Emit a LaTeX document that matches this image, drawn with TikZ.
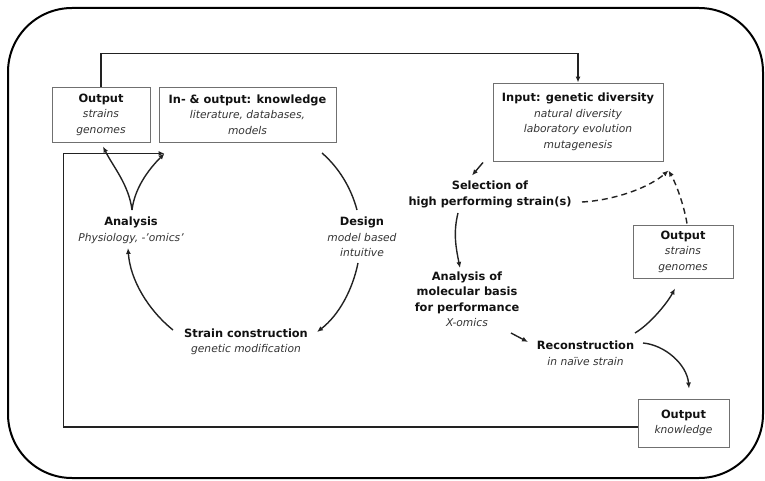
\documentclass[tikz,border=0pt]{standalone}
\usepackage{fontspec}
\setmainfont{DejaVu Sans}
\usetikzlibrary{arrows.meta}
\definecolor{headcol}{HTML}{111111}
\definecolor{subcol}{HTML}{333333}
\definecolor{boxcol}{HTML}{707070}
\definecolor{linecol}{HTML}{222222}
\newcommand\hd[1]{{\fontsize{11.4}{15.5}\selectfont\bfseries\color{headcol}#1}}
\newcommand\sbt[1]{{\fontsize{10.7}{15.5}\selectfont\itshape\color{subcol}#1}}
\tikzset{
  txt/.style={align=center, inner sep=0pt, font=\fontsize{10.5}{15.5}\selectfont},
  box/.style={txt, draw=boxcol, line width=0.95pt},
  conn/.style={draw=linecol, line width=1.4pt},
  arr/.style={conn, -{Latex[length=6pt,width=5pt]}},
  darr/.style={arr, dash pattern=on 6pt off 4pt},
}
\begin{document}
\begin{tikzpicture}[x=1pt,y=-1pt]
\useasboundingbox (0,0) rectangle (765,481);
% outer frame
\draw[line width=2pt, rounded corners=64pt] (8,8) rectangle (763,478);

% boxes
\node[box, minimum width=98pt, minimum height=55pt] (outL) at (101,114.5)
  {\hd{Output}\\\sbt{strains}\\\sbt{genomes}};
\node[box, minimum width=177pt, minimum height=55pt] (kb) at (247.5,114.5)
  {\hd{In- \& output: knowledge}\\\sbt{literature, databases,}\\\sbt{models}};
\node[box, minimum width=170pt, minimum height=78pt] (inp) at (578,122)
  {\hd{Input: genetic diversity}\\\sbt{natural diversity}\\\sbt{laboratory evolution}\\\sbt{mutagenesis}};
\node[box, minimum width=100pt, minimum height=53pt] (outR) at (683,251.5)
  {\hd{Output}\\\sbt{strains}\\\sbt{genomes}};
\node[box, minimum width=91pt, minimum height=48pt] (outK) at (683.5,423)
  {\hd{Output}\\\sbt{knowledge}};

% free labels of the cycles
\node[txt] (ana) at (131,230.5) {\hd{Analysis}\\\sbt{Physiology, -'omics'}};
\node[txt] (des) at (362,237) {\hd{Design}\\\sbt{model based}\\\sbt{intuitive}};
\node[txt] (sc) at (246,342) {\hd{Strain construction}\\\sbt{genetic modification}};
\node[txt] (sel) at (490,194.5) {\hd{Selection of}\\\hd{high performing strain(s)}};
\node[txt] (aof) at (467,299) {\hd{Analysis of}\\\hd{molecular basis}\\\hd{for performance}\\\sbt{X-omics}};
\node[txt] (rec) at (585.5,353) {\hd{Reconstruction}\\\sbt{in na\"ive strain}};

% top link from output strains to genetic diversity
\draw[arr] (outL.north) -- ++(0,-33) -| (inp.north);
% feedback of knowledge
\draw[arr] ([yshift=-4pt]outK.west) -- ++(-574,0) |- ([shift={(6,11)}]kb.south west);

% rational cycle
\draw[arr] ([shift={(1,-20.5)}]ana.center) .. controls +(-3,-25) and +(10,20) .. ([shift={(2,4)}]outL.south);
\draw[arr] ([shift={(1,-20.5)}]ana.center) .. controls +(3,-25) and +(-12,12) .. ([shift={(6,11)}]kb.south west);
\draw[conn] ([shift={(74.5,38.5)}]kb.center) .. controls +(17.2,15) and +(-5.9,-22) .. ([shift={(-5,-27)}]des.center);
\draw[arr] ([shift={(-4,26)}]des.center) .. controls +(-5.5,27) and +(21.8,-16.8) .. ([shift={(71,-10)}]sc.center);
\draw[arr] ([shift={(-73,-12)}]sc.center) .. controls +(-24.9,-20.1) and +(2.2,31.9) .. ([shift={(-3,17.5)}]ana.center);

% diversity-based route
\draw[arr] ([shift={(-95,1)}]inp.south) -- ([shift={(-18,-19)}]sel.center);
\draw[arr] ([shift={(-32,18.5)}]sel.center) .. controls +(-5,20) and +(-4,-20) .. ([shift={(-7,-31)}]aof.center);
\draw[arr] ([shift={(44,34)}]aof.center) -- ([shift={(-57.5,-11)}]rec.center);
\draw[arr] ([shift={(49.5,-20)}]rec.center) .. controls +(15,-9) and +(-8,15) .. ([shift={(-8,10)}]outR.south);
\draw[arr] ([shift={(57.5,-10)}]rec.center) .. controls +(22,2) and +(-2,-24) .. ([shift={(5.5,-10)}]outK.north);
\draw[darr] ([shift={(92,7.5)}]sel.center) .. controls +(35,-2) and +(-18,16) .. ([shift={(5,9)}]inp.south east);
\draw[darr] ([shift={(4,-1)}]outR.north) .. controls +(-3,-18) and +(8,14) .. ([shift={(5,9)}]inp.south east);
\end{tikzpicture}
\end{document}
